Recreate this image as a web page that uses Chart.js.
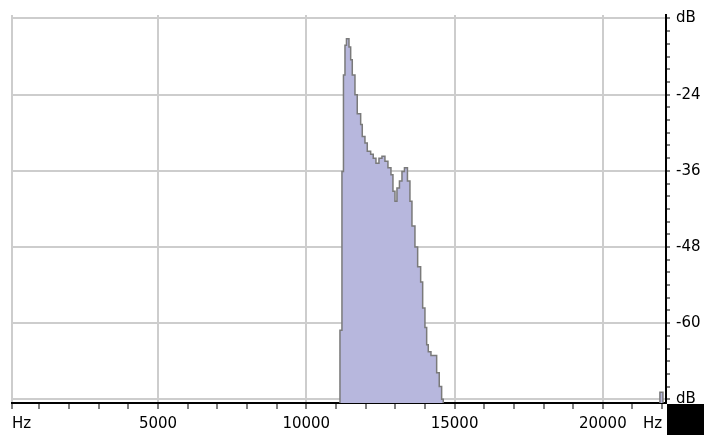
<!DOCTYPE html>
<html>
<head>
<meta charset="utf-8">
<script src="https://cdn.jsdelivr.net/npm/chart.js@4/dist/chart.umd.min.js"></script>
<style>
  html, body { margin: 0; padding: 0; background: #ffffff; }
  #wrap { position: relative; width: 704px; height: 435px; overflow: hidden; }
  #corner { position: absolute; left: 667px; top: 404px; width: 37px; height: 31px; background: #000; }
</style>
</head>
<body>
<div id="wrap">
  <canvas id="c" width="704" height="435"></canvas>
  <div id="corner"></div>
</div>
<script>
// ---- data ----
// step start frequency (Hz) and level (dB) of the spectrum
const freqHz = [10000, 11135, 11202, 11253, 11304, 11354, 11439, 11496, 11550, 11641, 11718,
  11833, 11887, 11978, 12056, 12170, 12258, 12349, 12450, 12551, 12652, 12753, 12855, 12922,
  12990, 13057, 13141, 13226, 13310, 13411, 13495, 13563, 13664, 13755, 13856, 13924, 14001,
  14059, 14113, 14204, 14396, 14483, 14564, 14618, 21925, 22027];
const levelDb = [-90, -61.1, -36.1, -20.9, -16.2, -15.2, -16.5, -18.5, -20.9, -24.0, -27.0,
  -28.7, -30.6, -31.6, -32.9, -33.4, -34.0, -34.8, -34.0, -33.7, -34.5, -35.5, -36.6, -39.2,
  -40.8, -38.7, -37.6, -36.1, -35.5, -37.6, -40.8, -44.7, -48.0, -51.1, -53.5, -57.6, -60.7,
  -63.4, -64.5, -65.1, -67.8, -70.0, -72.0, -90, -70.9, -90];

const X_MIN = 75, X_MAX = 22130;
const Y_MIN = -72.58, Y_MAX = -11.45;

const xTickValues = [75, 1000, 2000, 3000, 4000, 5000, 6000, 7000, 8000, 9000, 10000, 11000,
  12000, 13000, 14000, 15000, 16000, 17000, 18000, 19000, 20000, 21000, 22000];
const xTickLabels = ['Hz', '', '', '', '', '5000', '', '', '', '', '10000', '', '', '', '',
  '15000', '', '', '', '', '20000', '', 'Hz'];

const yTickValues = [-72, -70, -68, -66, -64, -62, -60, -58, -56, -54, -52, -50, -48, -46, -44,
  -42, -40, -38, -36, -34, -32, -30, -28, -26, -24, -22, -20, -18, -16, -14, -12];
const yTickLabels = ['dB', '', '', '', '', '', '-60', '', '', '', '', '', '-48', '', '', '', '',
  '', '-36', '', '', '', '', '', '-24', '', '', '', '', '', 'dB'];

// ---- chart ----
const GRID = '#cdcdcd';
const NONE = 'rgba(0,0,0,0)';
const FONT = { family: 'DejaVu Sans', size: 15 };

const points = freqHz.map((f, i) => ({ x: f, y: levelDb[i] }));

new Chart(document.getElementById('c'), {
  type: 'line',
  data: {
    datasets: [{
      data: points,
      stepped: true,
      fill: 'start',
      backgroundColor: '#b7b7dd',
      borderColor: '#7a7a7a',
      borderWidth: 1.5,
      pointRadius: 0,
      tension: 0
    }]
  },
  options: {
    responsive: false,
    animation: false,
    layout: { padding: { left: 12, top: 13, right: 0, bottom: 0 } },
    plugins: { legend: { display: false }, tooltip: { enabled: false } },
    scales: {
      x: {
        type: 'linear', position: 'bottom', min: X_MIN, max: X_MAX,
        afterBuildTicks: s => { s.ticks = xTickValues.map(v => ({ value: v })); },
        afterFit: s => { s.height = 32; },
        grid: {
          color: ctx => (ctx.tick && (ctx.tick.value % 5000 === 0 || ctx.tick.value === X_MIN)) ? GRID : NONE,
          lineWidth: 2, tickColor: '#000', tickWidth: 1, tickLength: 6
        },
        border: { color: '#000', width: 2 },
        ticks: {
          align: 'inner', autoSkip: false, maxRotation: 0, padding: 6, color: '#000', font: FONT,
          callback: (v, i) => xTickLabels[i]
        }
      },
      y: {
        type: 'linear', position: 'right', min: Y_MIN, max: Y_MAX,
        afterBuildTicks: s => { s.ticks = yTickValues.map(v => ({ value: v })); },
        afterFit: s => { s.width = 38; },
        grid: {
          color: ctx => (ctx.index !== undefined && yTickLabels[ctx.index]) ? GRID : NONE,
          lineWidth: 2, tickColor: '#000', tickWidth: 1, tickLength: 4
        },
        border: { color: '#000', width: 2 },
        ticks: {
          autoSkip: false, padding: 6, color: '#000', font: FONT,
          callback: (v, i) => yTickLabels[i]
        }
      }
    }
  }
});
</script>
</body>
</html>
